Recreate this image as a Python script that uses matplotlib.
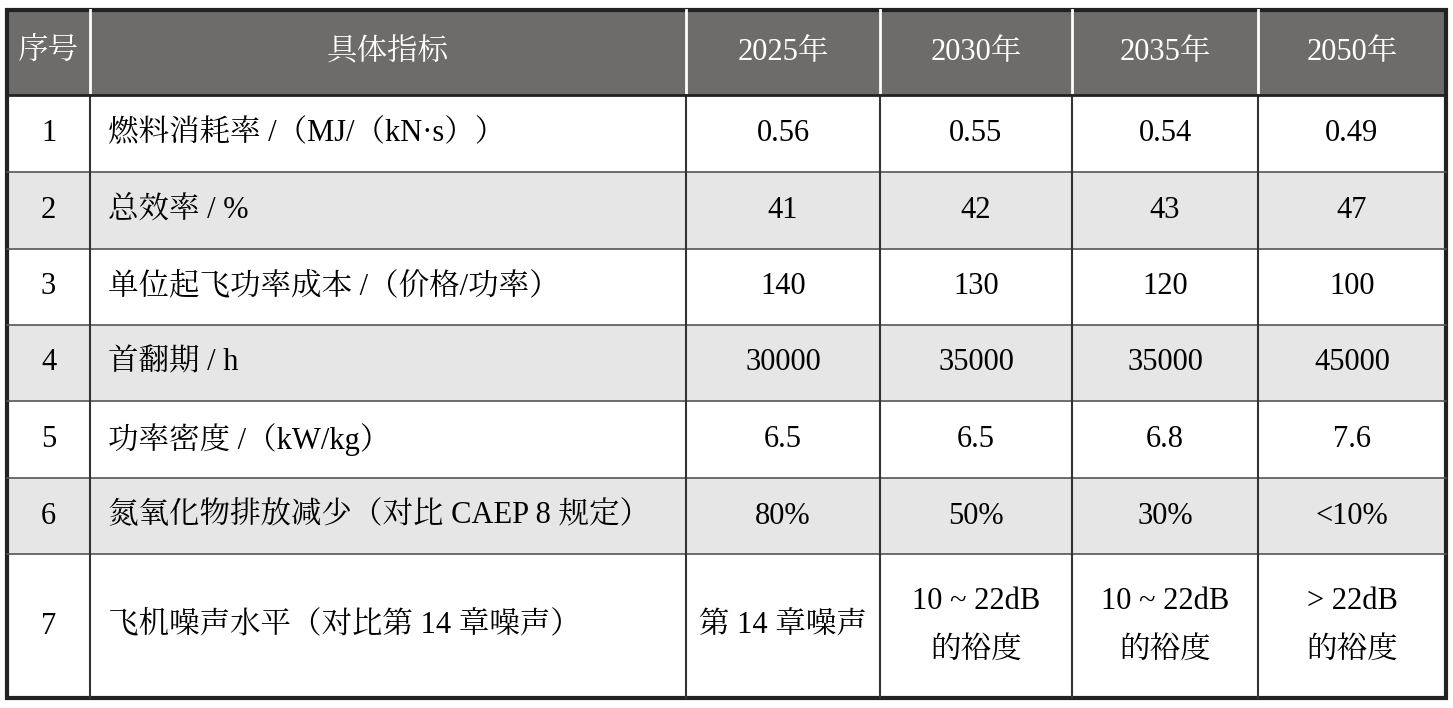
import matplotlib.pyplot as plt
from matplotlib import font_manager
from matplotlib.patches import Rectangle

cjk = [f.name for f in font_manager.fontManager.ttflist if 'CJK' in f.name]
cjk_name = next((n for n in cjk if 'SC' in n), cjk[0] if cjk else 'DejaVu Sans')
plt.rcParams['font.family'] = ['Liberation Serif', cjk_name, 'DejaVu Sans']

headers = ['序号', '具体指标', '2025年', '2030年', '2035年', '2050年']
row_ids = ['1', '2', '3', '4', '5', '6', '7']
indicators = ['燃料消耗率 /（MJ/（kN·s））', '总效率 / %', '单位起飞功率成本 /（价格/功率）',
              '首翻期 / h', '功率密度 /（kW/kg）', '氮氧化物排放减少（对比 CAEP 8 规定）',
              '飞机噪声水平（对比第 14 章噪声）']
y2025 = ['0.56', '41', '140', '30000', '6.5', '80%', '第 14 章噪声']
y2030 = ['0.55', '42', '130', '35000', '6.5', '50%', '10 ~ 22dB\n的裕度']
y2035 = ['0.54', '43', '120', '35000', '6.8', '30%', '10 ~ 22dB\n的裕度']
y2050 = ['0.49', '47', '100', '45000', '7.6', '<10%', '> 22dB\n的裕度']

# layout in pixels
col_x = [7, 90, 686, 880, 1072, 1258, 1446]
row_y = [10, 95, 172, 249, 325, 401, 478, 554, 698]

fig = plt.figure(figsize=(14.53, 7.08), dpi=100)
ax = fig.add_axes([0, 0, 1, 1])
ax.set_xlim(0, 1453)
ax.set_ylim(708, 0)
ax.axis('off')

header_bg = '#6e6b6b'
stripe = '#e6e6e6'

# header
ax.add_patch(Rectangle((col_x[0], row_y[0]), col_x[-1] - col_x[0], row_y[1] - row_y[0],
                       facecolor=header_bg, edgecolor='none'))
for j, h in enumerate(headers):
    cx = (col_x[j] + col_x[j + 1]) / 2
    ax.text(cx, (row_y[0] + row_y[1]) / 2, h, color='white', fontsize=22,
            ha='center', va='center')
for x in col_x[1:-1]:
    ax.plot([x, x], [row_y[0], row_y[1]], color='white', lw=2)

columns = [row_ids, indicators, y2025, y2030, y2035, y2050]
for i in range(len(row_ids)):
    y0, y1 = row_y[i + 1], row_y[i + 2]
    if i % 2 == 1:
        ax.add_patch(Rectangle((col_x[0], y0), col_x[-1] - col_x[0], y1 - y0,
                               facecolor=stripe, edgecolor='none'))
    for j, col in enumerate(columns):
        cy = (y0 + y1) / 2
        if j == 1:
            ax.text(col_x[1] + 18, cy, col[i], fontsize=22, ha='left', va='center')
        else:
            cx = (col_x[j] + col_x[j + 1]) / 2
            ax.text(cx, cy, col[i], fontsize=22, ha='center', va='center',
                    linespacing=1.9)

# grid lines for body
for y in row_y[2:-1]:
    ax.plot([col_x[0], col_x[-1]], [y, y], color='#555555', lw=1.2)
for x in col_x[1:-1]:
    ax.plot([x, x], [row_y[1], row_y[-1]], color='#333333', lw=1.5)
ax.plot([col_x[0], col_x[-1]], [row_y[1], row_y[1]], color='#222222', lw=2)
ax.add_patch(Rectangle((col_x[0], row_y[0]), col_x[-1] - col_x[0], row_y[-1] - row_y[0],
                       facecolor='none', edgecolor='#222222', lw=3))

fig.savefig('out.png', dpi=100)
